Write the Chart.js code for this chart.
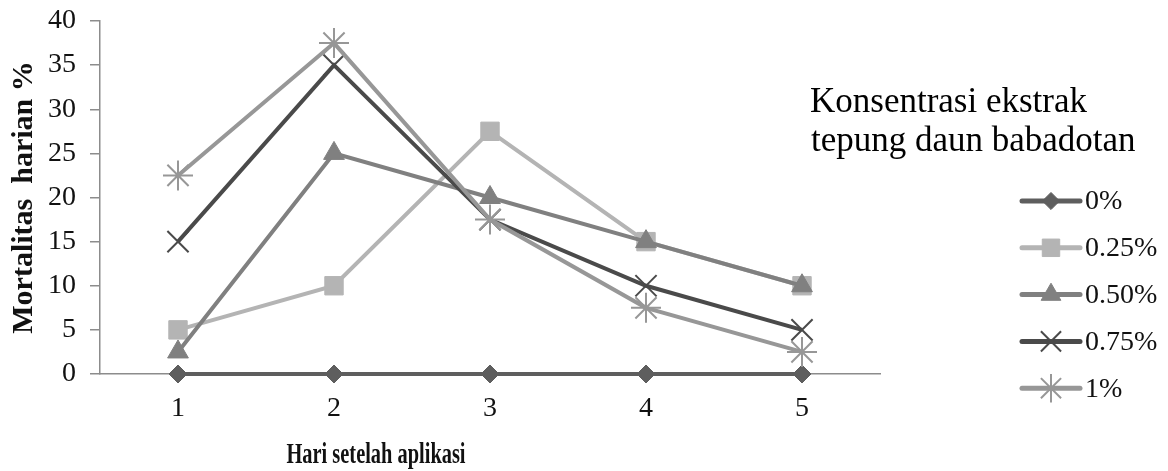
<!DOCTYPE html>
<html>
<head>
<meta charset="utf-8">
<script src="https://cdn.jsdelivr.net/npm/chart.js@4/dist/chart.umd.min.js"></script>
<style>
html,body{margin:0;padding:0;background:#fff;}
#wrap{position:relative;width:1168px;height:471px;}
</style>
</head>
<body>
<div id="wrap"><canvas id="c" width="1168" height="471"></canvas></div>
<script>
const days = ['1','2','3','4','5'];
const seriesNames = ['0%','0.25%','0.50%','0.75%','1%'];
const s0 = [0,0,0,0,0];
const s025 = [5,10,27.5,15,10];
const s050 = [2.5,25,20,15,10];
const s075 = [15,35,17.5,10,5];
const s1 = [22.5,37.5,17.5,7.5,2.5];
const yTicks = [0,5,10,15,20,25,30,35,40];
const legendTitle = ['Konsentrasi ekstrak','tepung daun babadotan'];
const xTitle = 'Hari setelah aplikasi';
const yTitle = 'Mortalitas  harian %';

const colors = ['#5e5e5e','#b4b4b4','#808080','#4a4a4a','#979797'];
const markers = ['rectRot','rect','triangle','crossRot','star'];
const radii = [9,13,12,15,15];
const allData = [s0,s025,s050,s075,s1];

const datasets = allData.map((d,i)=>({
  label: seriesNames[i],
  data: d,
  borderColor: colors[i],
  backgroundColor: colors[i],
  pointBackgroundColor: colors[i],
  pointBorderColor: colors[i],
  borderWidth: 4,
  pointStyle: markers[i],
  pointRadius: radii[i],
  pointHoverRadius: radii[i],
  pointBorderWidth: (markers[i]==='crossRot'||markers[i]==='star') ? 2 : 1,
  tension: 0,
  clip: false,
  order: -i
}));

const serif = '"Liberation Serif", "DejaVu Serif", serif';

const customLegend = {
  id: 'customLegend',
  afterDraw(chart){
    const ctx = chart.ctx;
    ctx.save();
    // legend title
    ctx.fillStyle = '#000';
    ctx.font = '35px ' + serif;
    ctx.textBaseline = 'alphabetic';
    ctx.textAlign = 'left';
    ctx.fillText(legendTitle[0], 810, 112);
    ctx.fillText(legendTitle[1], 811, 151);
    // legend entries
    const y0 = 201, dy = 46.8;
    chart.data.datasets.forEach((ds,i)=>{
      const y = y0 + i*dy;
      ctx.strokeStyle = ds.borderColor;
      ctx.lineWidth = 5;
      ctx.lineCap = 'round';
      ctx.beginPath();
      ctx.moveTo(1022, y);
      ctx.lineTo(1080, y);
      ctx.stroke();
      ctx.fillStyle = ds.pointBackgroundColor;
      ctx.strokeStyle = ds.pointBorderColor;
      ctx.lineWidth = ds.pointBorderWidth;
      ctx.lineCap = 'butt';
      Chart.helpers.drawPoint(ctx, {pointStyle: ds.pointStyle, radius: ds.pointRadius*0.95, rotation: 0, borderWidth: ds.pointBorderWidth}, 1051, y);
      ctx.fillStyle = '#111';
      ctx.font = '28px ' + serif;
      ctx.textBaseline = 'middle';
      ctx.fillText(ds.label, 1085, y + 1);
    });
    // x axis title
    ctx.save();
    ctx.fillStyle = '#111';
    ctx.font = 'bold 30px ' + serif;
    ctx.textAlign = 'center';
    ctx.textBaseline = 'alphabetic';
    ctx.translate(376, 463);
    ctx.scale(0.68, 1);
    ctx.fillText(xTitle, 0, 0);
    ctx.restore();
    ctx.restore();
  }
};

new Chart(document.getElementById('c'), {
  type: 'line',
  data: { labels: days, datasets },
  options: {
    responsive: false,
    animation: false,
    devicePixelRatio: 1,
    layout: { padding: { left: 0, right: 288, top: 21, bottom: 0 } },
    plugins: { legend: { display: false }, tooltip: { enabled: false } },
    scales: {
      x: {
        type: 'category',
        offset: true,
        grid: { display: true, drawOnChartArea: false, drawTicks: false },
        border: { display: true, color: '#8c8c8c', width: 1.5 },
        ticks: { color: '#111', font: { family: serif, size: 28 }, padding: 18 },
        afterFit(s){ s.height = 97; s.paddingTop = 0; s.paddingLeft = 0; s.paddingRight = 0; }
      },
      y: {
        min: 0, max: 40,
        afterBuildTicks(s){ s.ticks = yTicks.map(v=>({value:v})); },
        grid: { display: true, drawOnChartArea: false, drawTicks: true, tickLength: 10, color: '#8c8c8c', lineWidth: 1.5 },
        border: { display: true, color: '#8c8c8c', width: 1.5 },
        ticks: { color: '#111', font: { family: serif, size: 28 }, padding: 14 },
        title: { display: true, text: yTitle, color: '#111', font: { family: serif, size: 30, weight: 'bold' }, padding: { top: 6, bottom: 0 } },
        afterFit(s){ s.width = 100; s.paddingTop = 0; s.paddingBottom = 0; }
      }
    }
  },
  plugins: [customLegend]
});
</script>
</body>
</html>
